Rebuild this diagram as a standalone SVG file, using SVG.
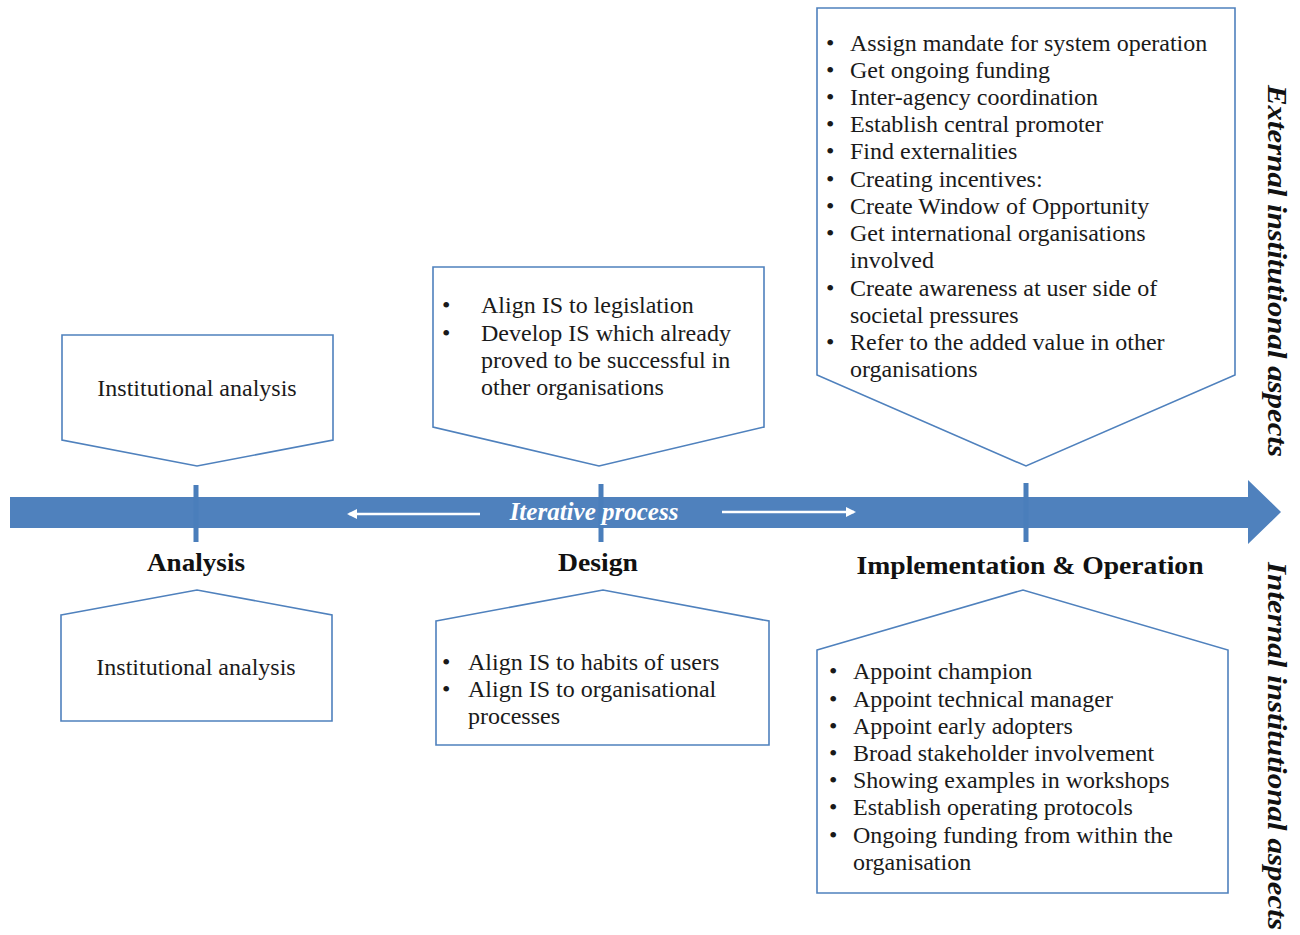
<svg xmlns="http://www.w3.org/2000/svg" width="1300" height="935" viewBox="0 0 1300 935">
  <style>
    .box { fill: #ffffff; stroke: #4f81bd; stroke-width: 1.6; }
    .t { font-family: "Liberation Serif", "DejaVu Serif", serif; font-size: 24px; fill: #1a1a1a; }
    .lbl { font-family: "Liberation Serif", "DejaVu Serif", serif; font-size: 26px; font-weight: bold; fill: #111; text-anchor: middle; }
    .side { font-family: "Liberation Serif", "DejaVu Serif", serif; font-size: 27px; font-weight: bold; font-style: italic; fill: #111; text-anchor: middle; }
    .iter { font-family: "Liberation Serif", "DejaVu Serif", serif; font-size: 25px; font-weight: bold; font-style: italic; fill: #ffffff; text-anchor: middle; }
    .tick { fill: #4a7ebb; }
    .warrow { stroke: #ffffff; stroke-width: 2.5; fill: none; }
  </style>
  <defs>
    <marker id="wh" viewBox="0 0 10 10" refX="8" refY="5" markerWidth="4" markerHeight="4" orient="auto-start-reverse">
      <path d="M0,0 L10,5 L0,10 z" fill="#ffffff"/>
    </marker>
  </defs>

  <rect width="1300" height="935" fill="#ffffff"/>

  <!-- timeline -->
  <g id="connectors">
    <polygon points="10,497 1248,497 1248,480 1281,512 1248,544 1248,528 10,528" fill="#4f81bd"/>
    <rect class="tick" x="193.5" y="485" width="5" height="57"/>
    <rect class="tick" x="598.5" y="484" width="5" height="58"/>
    <rect class="tick" x="1023.5" y="483" width="5" height="59"/>
    <line class="warrow" x1="480" y1="514" x2="349" y2="514" marker-end="url(#wh)"/>
    <line class="warrow" x1="722" y1="512" x2="854" y2="512" marker-end="url(#wh)"/>
    <text class="iter" x="594" y="520">Iterative process</text>
  </g>

  <!-- phase labels -->
  <g id="phase-labels">
    <text class="lbl" x="196" y="571" textLength="98" lengthAdjust="spacingAndGlyphs">Analysis</text>
    <text class="lbl" x="598" y="571" textLength="80" lengthAdjust="spacingAndGlyphs">Design</text>
    <text class="lbl" x="1030" y="574" textLength="347" lengthAdjust="spacingAndGlyphs">Implementation &amp; Operation</text>
  </g>

  <!-- side labels -->
  <g id="side-labels">
    <text class="side" transform="translate(1268,271) rotate(90)" textLength="372" lengthAdjust="spacingAndGlyphs">External institutional aspects</text>
    <text class="side" transform="translate(1268,746) rotate(90)" textLength="368" lengthAdjust="spacingAndGlyphs">Internal institutional aspects</text>
  </g>

  <!-- Analysis, external -->
  <g id="analysis-external">
    <polygon class="box" points="62,335 333,335 333,440 197,466 62,440"/>
    <text class="t" x="197" y="396" text-anchor="middle">Institutional analysis</text>
  </g>

  <!-- Analysis, internal -->
  <g id="analysis-internal">
    <polygon class="box" points="61,615 197,590 332,615 332,721 61,721"/>
    <text class="t" x="196" y="675" text-anchor="middle">Institutional analysis</text>
  </g>

  <!-- Design, external -->
  <g id="design-external">
    <polygon class="box" points="433,267 764,267 764,427 599,466 433,427"/>
    <text class="t" x="442" y="313">•</text>
    <text class="t" x="481" y="313">Align IS to legislation</text>
    <text class="t" x="442" y="341">•</text>
    <text class="t" x="481" y="341">Develop IS which already</text>
    <text class="t" x="481" y="368">proved to be successful in</text>
    <text class="t" x="481" y="395">other organisations</text>
  </g>

  <!-- Design, internal -->
  <g id="design-internal">
    <polygon class="box" points="436,621 603,590 769,621 769,745 436,745"/>
    <text class="t" x="442" y="670">•</text>
    <text class="t" x="468" y="670">Align IS to habits of users</text>
    <text class="t" x="442" y="697">•</text>
    <text class="t" x="468" y="697">Align IS to organisational</text>
    <text class="t" x="468" y="724">processes</text>
  </g>

  <!-- Implementation & Operation, external -->
  <g id="implementation-external">
    <polygon class="box" points="817,8 1235,8 1235,375 1026,466 817,375"/>
    <g class="t">
      <text x="826" y="51">•</text><text x="850" y="51">Assign mandate for system operation</text>
      <text x="826" y="78">•</text><text x="850" y="78">Get ongoing funding</text>
      <text x="826" y="105">•</text><text x="850" y="105">Inter-agency coordination</text>
      <text x="826" y="132">•</text><text x="850" y="132">Establish central promoter</text>
      <text x="826" y="159">•</text><text x="850" y="159">Find externalities</text>
      <text x="826" y="187">•</text><text x="850" y="187">Creating incentives:</text>
      <text x="826" y="214">•</text><text x="850" y="214">Create Window of Opportunity</text>
      <text x="826" y="241">•</text><text x="850" y="241">Get international organisations</text>
      <text x="850" y="268">involved</text>
      <text x="826" y="296">•</text><text x="850" y="296">Create awareness at user side of</text>
      <text x="850" y="323">societal pressures</text>
      <text x="826" y="350">•</text><text x="850" y="350">Refer to the added value in other</text>
      <text x="850" y="377">organisations</text>
    </g>
  </g>

  <!-- Implementation & Operation, internal -->
  <g id="implementation-internal">
    <polygon class="box" points="817,650 1023,590 1228,650 1228,893 817,893"/>
    <g class="t">
      <text x="829" y="679">•</text><text x="853" y="679">Appoint champion</text>
      <text x="829" y="707">•</text><text x="853" y="707">Appoint technical manager</text>
      <text x="829" y="734">•</text><text x="853" y="734">Appoint early adopters</text>
      <text x="829" y="761">•</text><text x="853" y="761">Broad stakeholder involvement</text>
      <text x="829" y="788">•</text><text x="853" y="788">Showing examples in workshops</text>
      <text x="829" y="815">•</text><text x="853" y="815">Establish operating protocols</text>
      <text x="829" y="843">•</text><text x="853" y="843">Ongoing funding from within the</text>
      <text x="853" y="870">organisation</text>
    </g>
  </g>
</svg>
